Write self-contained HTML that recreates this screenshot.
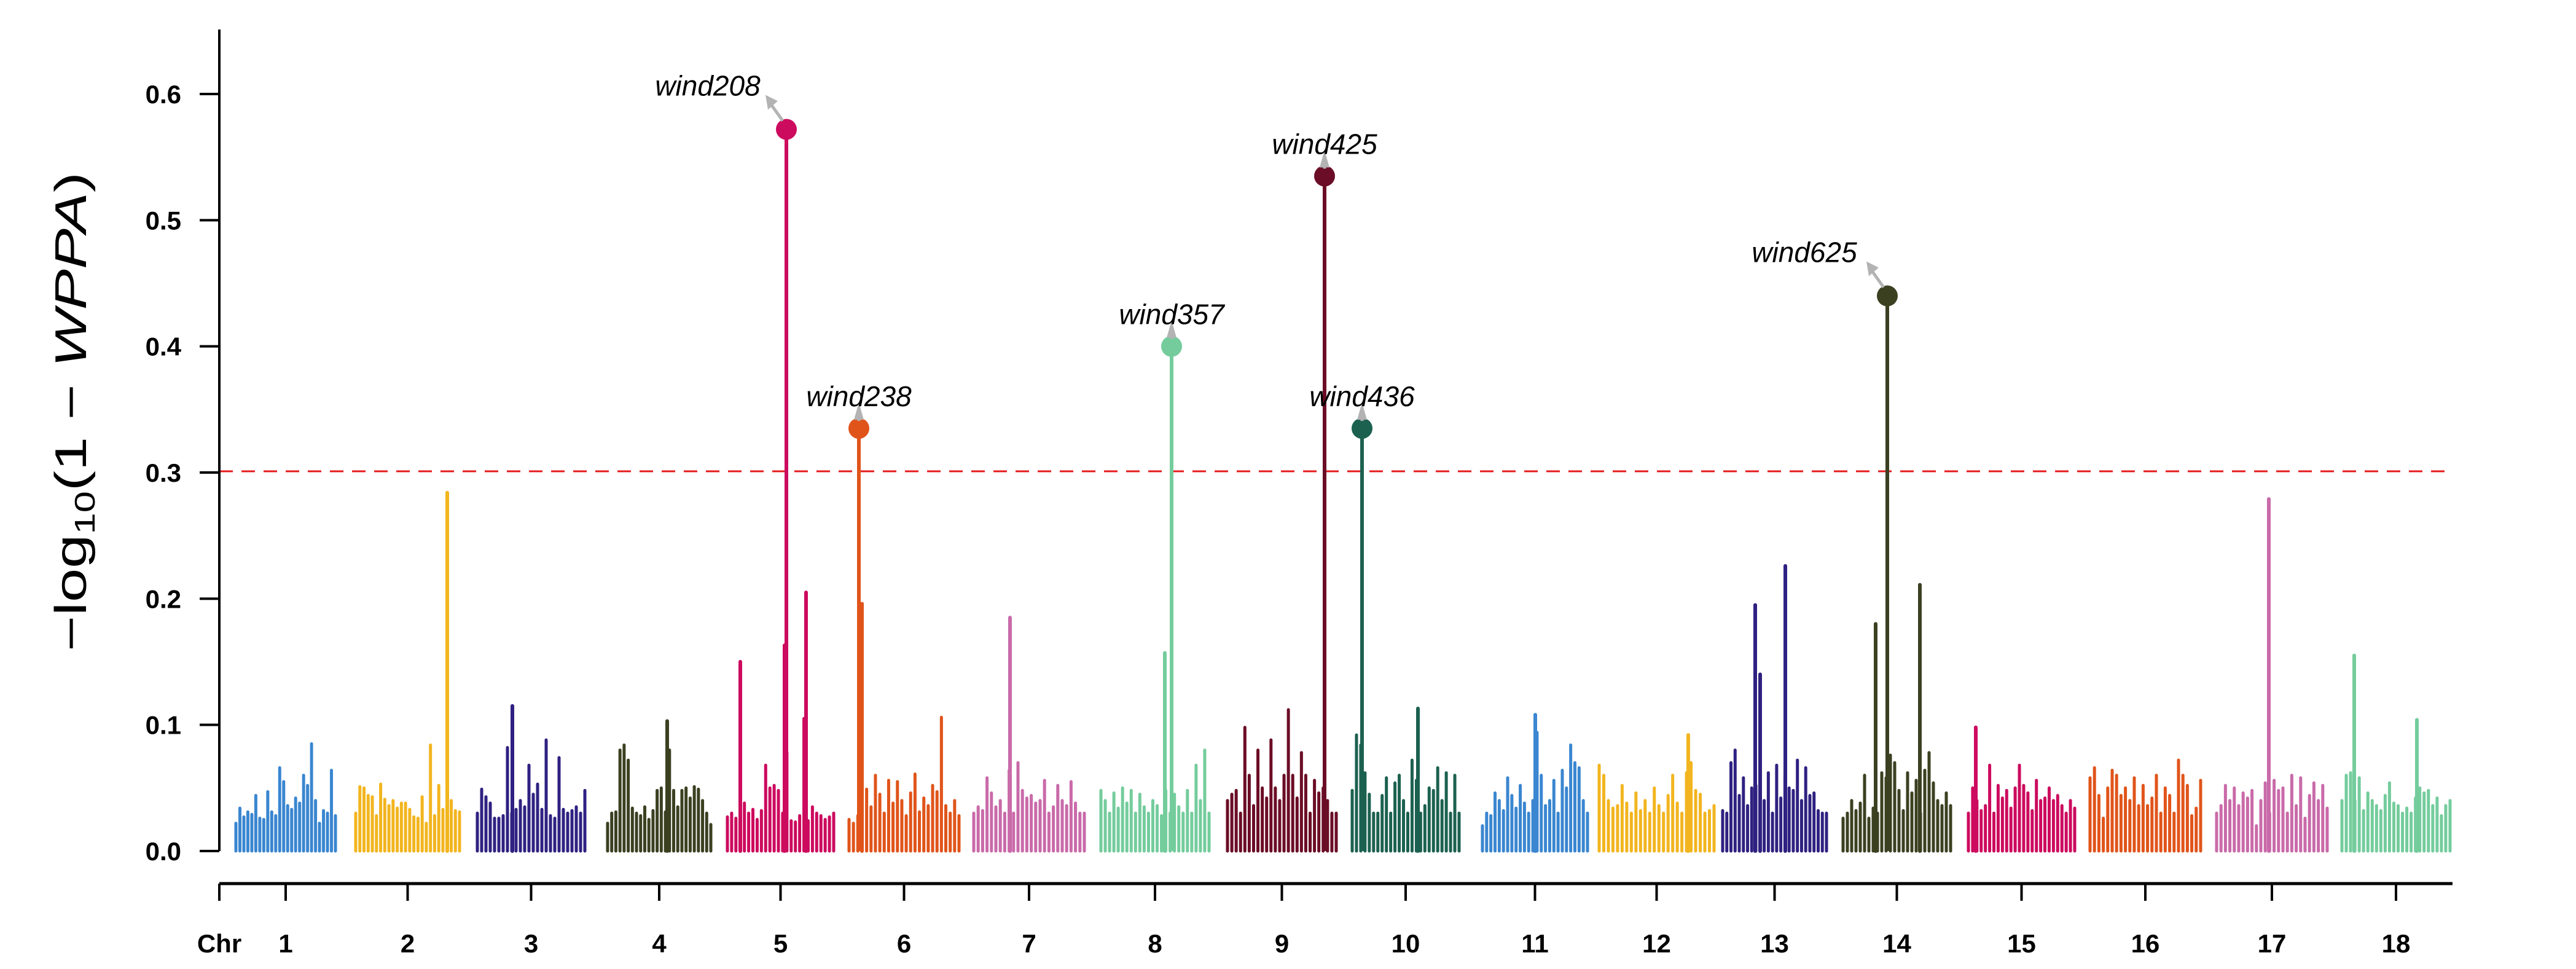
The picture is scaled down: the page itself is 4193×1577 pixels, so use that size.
<!DOCTYPE html>
<html><head><meta charset="utf-8">
<style>
html,body{margin:0;padding:0;background:#fff;}
svg{display:block;}
text{font-family:"Liberation Sans",sans-serif;}
</style></head>
<body>
<svg id="chart" width="4193" height="1577" viewBox="0 0 4193 1577" xmlns="http://www.w3.org/2000/svg">
  <g id="bars"></g>
  <g id="axes"></g>
  <g id="annot"></g>
  <text transform="translate(140,670) rotate(-90)" text-anchor="middle" font-size="72" textLength="780" lengthAdjust="spacingAndGlyphs">−log<tspan font-size="46" dy="14">10</tspan><tspan dy="-14">(1 − </tspan><tspan font-style="italic">WPPA</tspan>)</text>
</svg>
<script>
// ---- data ----
const chrNames = ["1","2","3","4","5","6","7","8","9","10","11","12","13","14","15","16","17","18"];
const chrStart = [2.7,22.2,42.0,63.2,82.7,102.5,122.8,143.5,164.1,184.4,205.6,224.6,244.7,264.3,284.7,304.5,325.1,345.5];
const chrEnd   = [18.9,39.1,59.5,80.0,100.0,120.4,140.8,161.1,181.8,201.8,222.7,243.3,261.6,281.8,302.0,322.5,343.1,363.1];
const chrColors = ["#3a86d0","#f2b51f","#2f2181","#3b4021","#cc0a5e","#e0541a","#c96aa9","#74cc9c","#6b0d26","#1c6150"];
const bg1 = [0.022,0.034,0.027,0.031,0.029,0.044,0.026,0.025,0.047,0.031,0.028,0.066,0.055,0.036,0.033,0.042,0.038,0.060,0.052,0.085,0.040,0.022,0.032,0.030,0.064,0.028];
const bg2 = [0.030,0.051,0.050,0.044,0.043,0.028,0.053,0.041,0.036,0.040,0.034,0.038,0.038,0.033,0.027,0.026,0.043,0.022,0.084,0.028,0.052,0.033,0.045,0.040,0.032,0.031];
const bg3 = [0.030,0.049,0.043,0.038,0.026,0.026,0.028,0.082,0.030,0.033,0.040,0.035,0.068,0.045,0.053,0.033,0.088,0.028,0.026,0.074,0.033,0.030,0.032,0.035,0.030,0.048];
const bg4 = [0.022,0.030,0.031,0.080,0.084,0.072,0.034,0.030,0.028,0.035,0.025,0.032,0.048,0.050,0.031,0.080,0.048,0.035,0.048,0.050,0.042,0.051,0.049,0.040,0.030,0.021];
const bg5 = [0.027,0.030,0.026,0.072,0.038,0.030,0.033,0.025,0.032,0.068,0.050,0.052,0.048,0.030,0.078,0.024,0.023,0.028,0.105,0.024,0.035,0.030,0.028,0.025,0.027,0.030];
const bg6 = [0.025,0.022,0.028,0.040,0.049,0.035,0.060,0.045,0.030,0.056,0.038,0.055,0.040,0.028,0.046,0.061,0.031,0.042,0.036,0.052,0.047,0.106,0.036,0.030,0.040,0.028];
const bg7 = [0.030,0.035,0.032,0.058,0.046,0.035,0.040,0.030,0.064,0.030,0.070,0.048,0.042,0.044,0.038,0.040,0.056,0.030,0.035,0.052,0.040,0.036,0.055,0.038,0.030,0.030];
const bg8 = [0.048,0.040,0.030,0.046,0.034,0.050,0.038,0.048,0.030,0.045,0.035,0.030,0.040,0.036,0.028,0.048,0.030,0.045,0.035,0.030,0.048,0.030,0.068,0.040,0.080,0.030];
const bg9 = [0.040,0.045,0.048,0.030,0.098,0.060,0.036,0.080,0.050,0.042,0.088,0.050,0.040,0.060,0.112,0.060,0.042,0.078,0.060,0.030,0.056,0.046,0.050,0.040,0.030,0.030];
const bg10 = [0.048,0.092,0.084,0.062,0.045,0.030,0.030,0.044,0.058,0.030,0.054,0.060,0.040,0.030,0.072,0.056,0.030,0.036,0.050,0.048,0.066,0.040,0.062,0.030,0.060,0.030];
const bg11 = [0.020,0.030,0.028,0.046,0.040,0.032,0.058,0.044,0.034,0.052,0.038,0.030,0.040,0.094,0.060,0.036,0.040,0.056,0.030,0.064,0.050,0.084,0.070,0.066,0.040,0.030];
const bg12 = [0.068,0.060,0.040,0.034,0.036,0.052,0.038,0.030,0.046,0.032,0.040,0.030,0.050,0.036,0.030,0.044,0.060,0.038,0.030,0.062,0.070,0.048,0.045,0.030,0.032,0.036];
const bg13 = [0.032,0.030,0.070,0.080,0.044,0.058,0.036,0.050,0.052,0.048,0.040,0.062,0.030,0.068,0.042,0.060,0.050,0.048,0.072,0.040,0.066,0.044,0.046,0.032,0.030,0.030];
const bg14 = [0.026,0.030,0.040,0.032,0.038,0.060,0.026,0.034,0.030,0.062,0.058,0.076,0.070,0.048,0.032,0.062,0.046,0.056,0.030,0.064,0.078,0.054,0.040,0.036,0.046,0.036];
const bg15 = [0.030,0.050,0.040,0.032,0.036,0.068,0.030,0.052,0.042,0.048,0.034,0.050,0.068,0.052,0.046,0.032,0.056,0.040,0.042,0.050,0.040,0.044,0.036,0.030,0.040,0.034];
const bg16 = [0.058,0.066,0.044,0.026,0.050,0.064,0.060,0.044,0.050,0.040,0.058,0.036,0.052,0.036,0.042,0.060,0.030,0.050,0.044,0.030,0.072,0.060,0.052,0.028,0.034,0.056];
const bg17 = [0.030,0.036,0.052,0.040,0.050,0.036,0.046,0.042,0.048,0.020,0.040,0.054,0.030,0.056,0.048,0.050,0.030,0.060,0.036,0.058,0.026,0.044,0.054,0.040,0.052,0.034];
const bg18 = [0.040,0.060,0.062,0.040,0.058,0.032,0.046,0.040,0.036,0.032,0.044,0.054,0.038,0.036,0.030,0.034,0.030,0.042,0.050,0.046,0.048,0.036,0.042,0.028,0.036,0.040];
const bgAll = [bg1,bg2,bg3,bg4,bg5,bg6,bg7,bg8,bg9,bg10,bg11,bg12,bg13,bg14,bg15,bg16,bg17,bg18];
// notable markers: chromosome index, position (Mb), value
const peakChr = [1,4,4,4,5,6,7,12,12,12,13,13,16,17,17,2,3,9,10,11,14];
const peakPos = [37.1,95.5,92.0,84.8,104.6,128.7,153.9,250.0,254.9,250.8,269.6,276.8,333.6,347.5,357.7,47.7,72.9,195.1,214.2,239.1,285.9];
const peakVal = [0.284,0.205,0.163,0.150,0.196,0.185,0.157,0.195,0.226,0.140,0.180,0.211,0.279,0.155,0.104,0.115,0.103,0.113,0.108,0.092,0.098];
// labelled significant markers
const sigNames = ["wind208","wind238","wind357","wind425","wind436","wind625"];
const sigChr = [4,5,7,8,9,13];
const sigPos = [92.3,104.1,155.0,179.9,186.0,271.5];
const sigVal = [0.572,0.335,0.400,0.535,0.335,0.440];
const sigLabelDx = [-128,0,0,0,0,-135];
const sigLabelDy = [-55,-36,-36,-36,-36,-55];
const yTicks = [0.0,0.1,0.2,0.3,0.4,0.5,0.6];
const threshold = 0.301;

// ---- scales ----
const NS = "http://www.w3.org/2000/svg";
const xAxisStart = 357, xAxisEnd = 3992;
function xs(mb){ return 357 + mb*10; }
function ys(v){ return 1385 - v*2053.3; }
function mk(tag, attrs, parent){ const e=document.createElementNS(NS,tag); for(const k in attrs) e.setAttribute(k,attrs[k]); parent.appendChild(e); return e; }
const barsG = document.getElementById('bars'), axesG=document.getElementById('axes'), annG=document.getElementById('annot');

bgAll.forEach((arr,ci)=>{
  const col = chrColors[ci%10];
  const g = mk('g',{},barsG);
  
  
  const n = arr.length;
  arr.forEach((v,i)=>{
    const pos = chrStart[ci] + (chrEnd[ci]-chrStart[ci])*i/(n-1);
    const l = mk('line',{x1:xs(pos),x2:xs(pos),y1:ys(0),y2:ys(v),stroke:col,'stroke-width':5,'stroke-linecap':'round'},g);
    
    
  });
});
peakChr.forEach((ci,i)=>{
  const l = mk('line',{x1:xs(peakPos[i]),x2:xs(peakPos[i]),y1:ys(0),y2:ys(peakVal[i]),stroke:chrColors[ci%10],'stroke-width':6,'stroke-linecap':'round'},barsG);
  
  
});

const th = mk('line',{x1:xAxisStart,x2:xAxisEnd,y1:ys(threshold),y2:ys(threshold),stroke:'#e41a1c','stroke-width':3,'stroke-dasharray':'22 14'},axesG);



sigNames.forEach((nm,i)=>{
  const col = chrColors[sigChr[i]%10];
  const x = xs(sigPos[i]), y = ys(sigVal[i]);
  const l = mk('line',{x1:x,x2:x,y1:ys(0),y2:y,stroke:col,'stroke-width':6},annG);
  
  
  const c = mk('circle',{cx:x,cy:y,r:17,fill:col},annG);
  
  
  const lx = x + sigLabelDx[i], ly = y + sigLabelDy[i];
  const side = sigLabelDx[i]!==0;
  const ax = side ? x-26 : x, ay = side ? y-48 : y-18;
  const a = mk('line',{x1:x-(side?6:0),y1:y-14,x2:ax,y2:ay+6,stroke:'#b3b3b3','stroke-width':5},annG);
  
  
  const ah = mk('polygon',{points: side ? `${ax-8},${ay-8} ${ax+12},${ay+2} ${ax-4},${ay+16}` : `${x-8},${y-14} ${x+8},${y-14} ${x},${y-42}`,fill:'#b3b3b3'},annG);
  
  
  const t = mk('text',{x:lx,y:ly,'text-anchor':'middle','font-size':46,'font-style':'italic',fill:'#000'},annG);
  t.textContent = nm;
  
  
});

const ya = mk('line',{x1:357,x2:357,y1:48,y2:ys(0),stroke:'#000','stroke-width':4},axesG);


yTicks.forEach(v=>{
  const tk = mk('line',{x1:325,x2:357,y1:ys(v),y2:ys(v),stroke:'#000','stroke-width':4},axesG);
  
  
  const t = mk('text',{x:295,y:ys(v)+15,'text-anchor':'end','font-size':42,'font-weight':'bold'},axesG);
  t.textContent = v.toFixed(1);
  
  
});
const xa = mk('line',{x1:xAxisStart,x2:xAxisEnd,y1:1438,y2:1438,stroke:'#000','stroke-width':5},axesG);


const t0 = mk('line',{x1:xAxisStart,x2:xAxisStart,y1:1438,y2:1466,stroke:'#000','stroke-width':4},axesG);


const chrLbl = mk('text',{x:xAxisStart,y:1550,'text-anchor':'middle','font-size':42,'font-weight':'bold'},axesG);
chrLbl.textContent = 'Chr';


chrNames.forEach((nm,ci)=>{
  const x = xs((chrStart[ci]+chrEnd[ci])/2);
  const tk = mk('line',{x1:x,x2:x,y1:1438,y2:1466,stroke:'#000','stroke-width':4},axesG);
  
  
  const t = mk('text',{x:x,y:1550,'text-anchor':'middle','font-size':42,'font-weight':'bold'},axesG);
  t.textContent = nm;
  
  
});
</script>
</body></html>
